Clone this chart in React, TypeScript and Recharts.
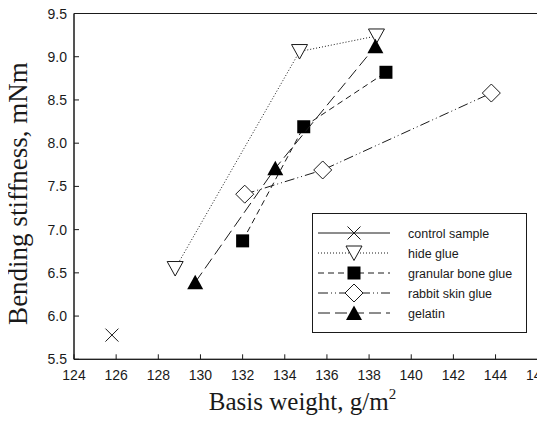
import React from 'react';
import { ScatterChart, Scatter, XAxis, YAxis, ReferenceArea, Legend, Label } from 'recharts';

const xTicks = [124, 126, 128, 130, 132, 134, 136, 138, 140, 142, 144, 146];
const yTicks = [5.5, 6.0, 6.5, 7.0, 7.5, 8.0, 8.5, 9.0, 9.5];

const controlSample = [{ x: 125.8, y: 5.78 }];
const hideGlue = [
  { x: 128.8, y: 6.55 },
  { x: 134.7, y: 9.06 },
  { x: 138.35, y: 9.24 },
];
const granularBoneGlue = [
  { x: 132.0, y: 6.87 },
  { x: 134.9, y: 8.19 },
  { x: 138.8, y: 8.82 },
];
const rabbitSkinGlue = [
  { x: 132.1, y: 7.41 },
  { x: 135.8, y: 7.69 },
  { x: 143.8, y: 8.58 },
];
const gelatin = [
  { x: 129.75, y: 6.39 },
  { x: 133.55, y: 7.71 },
  { x: 138.3, y: 9.12 },
];

const INK = '#1a1a1a';
const SANS = '"Liberation Sans", Arial, sans-serif';
const SERIF = '"Liberation Serif", "Times New Roman", serif';

type MarkerKind = 'x' | 'triDown' | 'square' | 'diamond' | 'triUp';

const drawMarker = (kind: MarkerKind, cx: number, cy: number) => {
  switch (kind) {
    case 'x':
      return (
        <g stroke={INK} strokeWidth={1}>
          <line x1={cx - 6.5} y1={cy - 6.5} x2={cx + 6.5} y2={cy + 6.5} />
          <line x1={cx - 6.5} y1={cy + 6.5} x2={cx + 6.5} y2={cy - 6.5} />
        </g>
      );
    case 'triDown':
      return (
        <polygon
          points={`${cx - 8},${cy - 7} ${cx + 8},${cy - 7} ${cx},${cy + 7.5}`}
          fill="#fff"
          stroke={INK}
          strokeWidth={1}
        />
      );
    case 'square':
      return <rect x={cx - 6.5} y={cy - 6.5} width={13} height={13} fill="#000" />;
    case 'diamond':
      return (
        <polygon
          points={`${cx},${cy - 9} ${cx + 9},${cy} ${cx},${cy + 9} ${cx - 9},${cy}`}
          fill="#fff"
          stroke={INK}
          strokeWidth={1}
        />
      );
    case 'triUp':
    default:
      return (
        <polygon
          points={`${cx - 8},${cy + 7} ${cx + 8},${cy + 7} ${cx},${cy - 7.5}`}
          fill="#000"
        />
      );
  }
};

const seriesList = [
  { name: 'control sample', data: controlSample, marker: 'x' as MarkerKind, dash: '', line: false },
  { name: 'hide glue', data: hideGlue, marker: 'triDown' as MarkerKind, dash: '1 2', line: true },
  { name: 'granular bone glue', data: granularBoneGlue, marker: 'square' as MarkerKind, dash: '6 4', line: true },
  { name: 'rabbit skin glue', data: rabbitSkinGlue, marker: 'diamond' as MarkerKind, dash: '10 3 1 3 1 3', line: true },
  { name: 'gelatin', data: gelatin, marker: 'triUp' as MarkerKind, dash: '12 5', line: true },
];

const XTick = (props: any) => {
  const { x, y, payload } = props;
  return (
    <g>
      <line x1={x} y1={y} x2={x} y2={y - 5} stroke={INK} strokeWidth={1} />
      <text x={x} y={y + 21} textAnchor="middle" fontSize={14} fontFamily={SANS} fill={INK}>
        {payload.value}
      </text>
    </g>
  );
};

const YTick = (props: any) => {
  const { x, y, payload } = props;
  return (
    <g>
      <line x1={x} y1={y} x2={x + 5} y2={y} stroke={INK} strokeWidth={1} />
      <text x={x - 7} y={y + 5} textAnchor="end" fontSize={14} fontFamily={SANS} fill={INK}>
        {Number(payload.value).toFixed(1)}
      </text>
    </g>
  );
};

const XTitle = () => (
  <text x={302.5} y={410} textAnchor="middle" fontSize={25} fontFamily={SERIF} fill={INK}>
    Basis weight, g/m
    <tspan fontSize={15} dy={-11}>2</tspan>
  </text>
);

const YTitle = () => {
  const cx = 27;
  const cy = 193.5;
  return (
    <text
      x={cx}
      y={cy}
      textAnchor="middle"
      fontSize={27}
      fontFamily={SERIF}
      fill={INK}
      transform={`rotate(-90, ${cx}, ${cy})`}
    >
      Bending stiffness, mNm
    </text>
  );
};

const LegendBox = () => {
  const w = 215;
  const h = 120;
  return (
    <svg width={w} height={h} style={{ display: 'block' }}>
      <rect x={0.5} y={0.5} width={w - 1} height={h - 1} fill="#fff" stroke={INK} strokeWidth={1} />
      {seriesList.map((s, i) => {
        const cy = 20 + 20 * i;
        return (
          <g key={s.name}>
            <line
              x1={6}
              y1={cy}
              x2={78}
              y2={cy}
              stroke={INK}
              strokeWidth={1}
              strokeDasharray={s.dash || undefined}
            />
            {drawMarker(s.marker, 42, cy)}
            <text x={96} y={cy + 4.5} fontSize={12.5} fontFamily={SANS} fill={INK}>
              {s.name}
            </text>
          </g>
        );
      })}
    </svg>
  );
};

export default function App() {
  return (
    <div style={{ margin: '-8px 0 0 -8px', width: 545, height: 425, background: '#fff' }}>
      <ScatterChart
        width={545}
        height={425}
        margin={{ top: 13.5, right: 7.3, bottom: 0, left: 0 }}
      >
        <XAxis
          type="number"
          dataKey="x"
          domain={[124, 146]}
          ticks={xTicks}
          interval={0}
          allowDataOverflow
          height={65.7}
          tickSize={0}
          tickMargin={0}
          tick={<XTick />}
          axisLine={{ stroke: INK }}
          tickLine={false}
        >
          <Label content={<XTitle />} />
        </XAxis>
        <YAxis
          type="number"
          dataKey="y"
          domain={[5.5, 9.5]}
          ticks={yTicks}
          interval={0}
          allowDataOverflow
          width={74}
          tickSize={0}
          tickMargin={0}
          tick={<YTick />}
          axisLine={{ stroke: INK }}
          tickLine={false}
        >
          <Label content={<YTitle />} />
        </YAxis>
        <ReferenceArea x1={124} x2={146} y1={5.5} y2={9.5} fill="none" stroke={INK} strokeWidth={1} />
        {seriesList.map((s) => (
          <Scatter
            key={s.name}
            name={s.name}
            data={s.data}
            isAnimationActive={false}
            line={s.line ? { stroke: INK, strokeWidth: 1, strokeDasharray: s.dash } : false}
            lineType="joint"
            shape={(p: any) => drawMarker(s.marker, p.cx, p.cy)}
          />
        ))}
        <Legend
          layout="horizontal"
          verticalAlign="middle"
          align="center"
          wrapperStyle={{ position: 'absolute', left: 311.7, top: 213, width: 215, height: 120 }}
          content={<LegendBox />}
        />
      </ScatterChart>
    </div>
  );
}
